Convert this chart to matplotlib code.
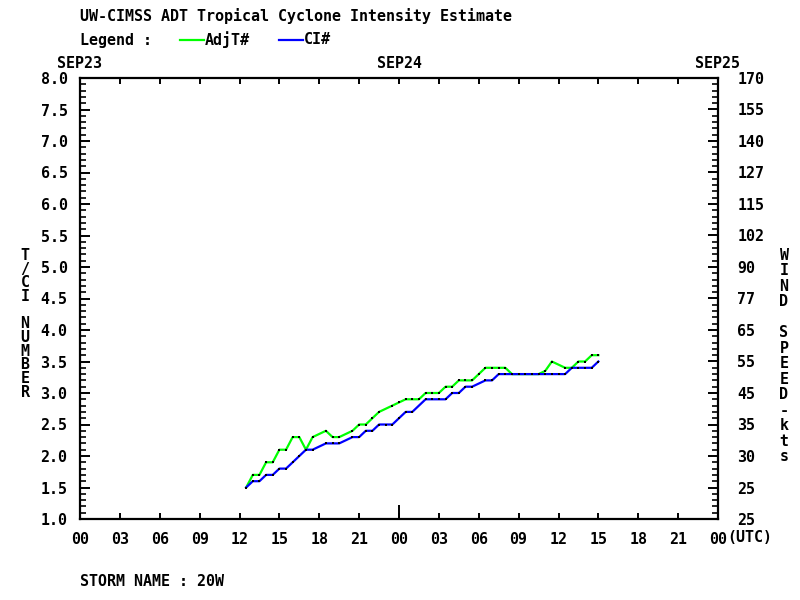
import matplotlib
matplotlib.use("Agg")
import matplotlib.pyplot as plt
import numpy as np
from matplotlib.ticker import MultipleLocator, FixedLocator

# ---------------- data ----------------
adj_hours = [12.5, 13.0, 13.5, 14.0, 14.5, 15.0, 15.5, 16.0, 16.5, 17.0, 17.5,
             18.5, 19.0, 19.5, 20.5, 21.0, 21.5, 22.0, 22.5, 23.5, 24.0, 24.5,
             25.0, 25.5, 26.0, 26.5, 27.0, 27.5, 28.0, 28.5, 29.0, 29.5, 30.0,
             30.5, 31.0, 31.5, 32.0, 32.5, 33.0, 33.5, 34.0, 34.5, 35.0, 35.5,
             36.5, 37.0, 37.5, 38.0, 38.5, 39.0]
adj_vals = [1.5, 1.7, 1.7, 1.9, 1.9, 2.1, 2.1, 2.3, 2.3, 2.1, 2.3,
            2.4, 2.3, 2.3, 2.4, 2.5, 2.5, 2.6, 2.7, 2.8, 2.85, 2.9,
            2.9, 2.9, 3.0, 3.0, 3.0, 3.1, 3.1, 3.2, 3.2, 3.2, 3.3,
            3.4, 3.4, 3.4, 3.4, 3.3, 3.3, 3.3, 3.3, 3.3, 3.35, 3.5,
            3.4, 3.4, 3.5, 3.5, 3.6, 3.6]

ci_hours = [12.5, 13.0, 13.5, 14.0, 14.5, 15.0, 15.5, 16.0, 16.5, 17.0, 17.5,
            18.5, 19.0, 19.5, 20.5, 21.0, 21.5, 22.0, 22.5, 23.0, 23.5, 24.0,
            24.5, 25.0, 26.0, 26.5, 27.0, 27.5, 28.0, 28.5, 29.0, 29.5, 30.5,
            31.0, 31.5, 32.0, 32.5, 33.0, 33.5, 34.0, 34.5, 35.0, 35.5, 36.0,
            36.5, 37.0, 37.5, 38.0, 38.5, 39.0]
ci_vals = [1.5, 1.6, 1.6, 1.7, 1.7, 1.8, 1.8, 1.9, 2.0, 2.1, 2.1,
           2.2, 2.2, 2.2, 2.3, 2.3, 2.4, 2.4, 2.5, 2.5, 2.5, 2.6,
           2.7, 2.7, 2.9, 2.9, 2.9, 2.9, 3.0, 3.0, 3.1, 3.1, 3.2,
           3.2, 3.3, 3.3, 3.3, 3.3, 3.3, 3.3, 3.3, 3.3, 3.3, 3.3,
           3.3, 3.4, 3.4, 3.4, 3.4, 3.5]

x_tick_labels = ["00", "03", "06", "09", "12", "15", "18", "21",
                 "00", "03", "06", "09", "12", "15", "18", "21", "00"]
date_labels = ["SEP23", "SEP24", "SEP25"]
ci_tick_labels = ["1.0", "1.5", "2.0", "2.5", "3.0", "3.5", "4.0", "4.5",
                  "5.0", "5.5", "6.0", "6.5", "7.0", "7.5", "8.0"]
wind_tick_labels = ["25", "25", "30", "35", "45", "55", "65", "77", "90",
                    "102", "115", "127", "140", "155", "170"]
title = "UW-CIMSS ADT Tropical Cyclone Intensity Estimate"
storm = "STORM NAME : 20W"
left_label = "T/CI NUMBER"
right_label = "WIND SPEED-kts"

# ---------------- style ----------------
FONT = "DejaVu Sans Mono"
FS = 10.8
W, H = 800, 600
fig = plt.figure(figsize=(8, 6), dpi=100)
fig.patch.set_facecolor("white")

L, R, T, B = 80, 718, 78, 519
ax = fig.add_axes([L / W, 1 - B / H, (R - L) / W, (B - T) / H])
ax.set_xlim(0, 48)
ax.set_ylim(1.0, 8.0)

txtkw = dict(family=FONT, fontsize=FS, fontweight="bold", color="black")

ax.plot(adj_hours, adj_vals, color="#00ff00", lw=1.6, zorder=3,
        marker="s", ms=1.6, mfc="black", mec="black", mew=0)
ax.plot(ci_hours, ci_vals, color="#0000ff", lw=1.6, zorder=4,
        marker="s", ms=1.6, mfc="black", mec="black", mew=0)

for s in ax.spines.values():
    s.set_linewidth(1.6)
    s.set_color("black")

# y ticks
ticks_y = np.arange(len(ci_tick_labels)) * 0.5 + 1.0
ax.set_yticks(ticks_y)
ax.set_yticklabels(ci_tick_labels)
ax.yaxis.set_minor_locator(MultipleLocator(0.1))
ax.tick_params(axis="y", which="major", direction="in", length=7, width=1.4,
               left=True, right=True, labelleft=True, labelright=False, pad=9)
ax.tick_params(axis="y", which="minor", direction="in", length=4, width=1.2,
               left=True, right=True)

ax2 = ax.twinx()
ax2.set_ylim(1.0, 8.0)
ax2.set_yticks(ticks_y)
ax2.set_yticklabels(wind_tick_labels)
ax2.tick_params(axis="y", which="major", direction="in", length=7, width=1.4,
                pad=14)
ax2.yaxis.set_minor_locator(MultipleLocator(0.1))
ax2.tick_params(axis="y", which="minor", direction="in", length=4, width=1.2)
for s in ax2.spines.values():
    s.set_visible(False)

# x ticks
ticks_x = np.arange(len(x_tick_labels)) * 3
ax.set_xticks(ticks_x)
ax.set_xticklabels(x_tick_labels)
ax.xaxis.remove_overlapping_locs = False
ax.xaxis.set_minor_locator(FixedLocator([0, 24, 48]))
ax.tick_params(axis="x", which="major", direction="in", length=4, width=1.4,
               top=True, bottom=True, pad=9)
ax.tick_params(axis="x", which="minor", direction="in", length=10, width=1.4,
               top=False, bottom=True)

for lab in ax.get_xticklabels() + ax.get_yticklabels() + ax2.get_yticklabels():
    lab.set_family(FONT)
    lab.set_fontsize(FS)
    lab.set_fontweight("bold")

def px(x, y):
    return x / W, 1 - y / H

# "(UTC)" after last tick label
fig.text(*px(727, 537), "(UTC)", ha="left", va="center", **txtkw)

# date labels
for lbl, xp in zip(date_labels, [L, (L + R) / 2, R]):
    fig.text(*px(xp, 64), lbl, ha="center", va="center", **txtkw)

# title and legend
fig.text(*px(80, 16), title, ha="left", va="center", **txtkw)
fig.text(*px(80, 40), "Legend :", ha="left", va="center", **txtkw)
fig.add_artist(plt.Line2D([180 / W, 204 / W], [1 - 40 / H, 1 - 40 / H],
                          color="#00ff00", lw=1.6))
fig.text(*px(205, 40), "AdjT#", ha="left", va="center", **txtkw)
fig.add_artist(plt.Line2D([279 / W, 303 / W], [1 - 40 / H, 1 - 40 / H],
                          color="#0000ff", lw=1.6))
fig.text(*px(304, 40), "CI#", ha="left", va="center", **txtkw)

# storm name
fig.text(*px(80, 582), storm, ha="left", va="center", **txtkw)

# vertical stacked axis labels (one text each, letters on separate lines)
left_stack = "\n".join(left_label)
right_stack = "\n".join(right_label)
fig.text(*px(25, 248), left_stack, ha="center", va="top", ma="center",
         linespacing=0.89, **txtkw)
fig.text(*px(784, 248), right_stack, ha="center", va="top", ma="center",
         linespacing=1.04, **txtkw)

fig.savefig("out.png", dpi=100, facecolor="white")
